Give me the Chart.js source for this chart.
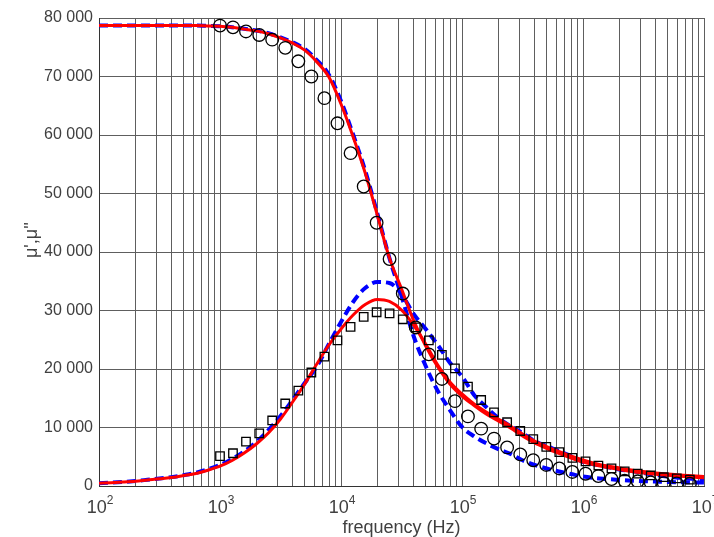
<!DOCTYPE html>
<html>
<head>
<meta charset="utf-8">
<script src="https://cdn.jsdelivr.net/npm/chart.js@4.4.1/dist/chart.umd.min.js"></script>
<style>
  html, body { margin: 0; padding: 0; background: #fff; }
  #wrap { width: 714px; height: 537px; }
</style>
</head>
<body>
<div id="wrap"><canvas id="chart" width="714" height="537"></canvas></div>
<script>
// Measured points (Hz)
const measFreq = [1000, 1280, 1640, 2110, 2700, 3460, 4440, 5690, 7290, 9350,
  12000, 15400, 19700, 25200, 32400, 41500, 53200, 68200, 87400, 112000,
  144000, 184000, 236000, 303000, 388000, 497000, 637000, 817000, 1050000, 1340000,
  1720000, 2210000, 2830000, 3630000, 4650000, 5960000, 7640000];

const muPrimeMeas = [78700, 78400, 77700, 77100, 76300, 74900, 72600, 70000, 66300, 62000,
  56900, 51200, 45000, 38800, 32900, 27100, 22500, 18300, 14500, 11900,
  9800, 8100, 6600, 5400, 4400, 3600, 3000, 2400, 2100, 1700,
  1200, 900, 800, 600, 500, 450, 400];

const muSecondMeas = [5100, 5600, 7600, 9000, 11200, 14100, 16300, 19400, 22100, 24900,
  27200, 28900, 29700, 29500, 28500, 27100, 24900, 22400, 20100, 17000,
  14700, 12600, 10900, 9400, 8000, 6700, 5800, 4800, 4200, 3500,
  3000, 2500, 2100, 1800, 1500, 1300, 1100];

// Model curves (Hz)
const curveFreq = [100, 126, 158, 200, 251, 316, 398, 501, 631, 794,
  1000, 1259, 1585, 1995, 2512, 3162, 3981, 5012, 6310, 7943,
  10000, 12589, 15849, 19953, 25119, 31623, 39811, 50119, 63096, 79433,
  100000, 125893, 158489, 199526, 251189, 316228, 398107, 501187, 630957, 794328,
  1000000, 1258925, 1584893, 1995262, 2511886, 3162278, 3981072, 5011872, 6309573, 7943282,
  10000000];

const redPrime = [78700, 78700, 78700, 78700, 78700, 78700, 78700, 78700, 78700, 78650,
  78600, 78400, 78100, 77800, 77300, 76600, 75700, 74500, 72500, 69900,
  65300, 59700, 53500, 46300, 39000, 33700, 28300, 23930, 20340, 17440,
  15380, 13760, 12310, 11110, 9910, 8550, 7350, 6410, 5560, 4790,
  4100, 3590, 3160, 2820, 2480, 2220, 2000, 1830, 1680, 1540, 1400];

const redSecond = [460, 560, 680, 830, 1030, 1220, 1450, 1780, 2140, 2700,
  3380, 4360, 5640, 7180, 9060, 11450, 14360, 17440, 20850, 24100,
  26840, 29230, 31030, 31880, 31540, 30090, 27520, 24270, 20680, 17780,
  15730, 14020, 12650, 11450, 10260, 8890, 7690, 6750, 5900, 5130,
  4440, 3850, 3420, 3080, 2740, 2480, 2220, 2050, 1880, 1740, 1620];

const bluePrime = [78700, 78700, 78700, 78700, 78700, 78700, 78700, 78700, 78700, 78650,
  78600, 78420, 78150, 77850, 77400, 76700, 75850, 74700, 72800, 70300,
  65800, 60100, 53900, 46600, 38970, 32480, 25640, 20510, 16240, 12990,
  10090, 8500, 7300, 6300, 5500, 4400, 3600, 2990, 2480, 2050,
  1620, 1370, 1200, 1030, 910, 820, 750, 680, 650, 620, 600];

const blueSecond = [480, 580, 700, 860, 1060, 1270, 1520, 1850, 2250, 2850,
  3600, 4600, 5900, 7520, 9570, 11970, 14700, 17610, 20430, 24270,
  28030, 31450, 33850, 34870, 34700, 32820, 29400, 26840, 24100, 21080,
  18720, 15560, 13500, 11620, 10260, 9060, 7690, 6840, 5980, 5130,
  4100, 3680, 3250, 2820, 2560, 2220, 1880, 1590, 1400, 1250, 1150];

// Grid lines of the log axis: 1..9 x each decade
const xGridTicks = [];
for (let e = 2; e < 7; e++) {
  for (let m = 1; m <= 9; m++) xGridTicks.push(m * Math.pow(10, e));
}
xGridTicks.push(1e7);
const xLabelPowers = [2, 3, 4, 5, 6, 7];

const FONT = '"Liberation Sans", Arial, sans-serif';
const TEXT = '#404040';

function pts(xs, ys) {
  return xs.map((x, i) => ({ x: x, y: ys[i] }));
}

const lineBase = {
  pointRadius: 0,
  fill: false,
  cubicInterpolationMode: 'monotone'
};

const textPlugin = {
  id: 'textPlugin',
  beforeDraw(chart) {
    const ctx = chart.ctx;
    ctx.save();
    ctx.fillStyle = '#fff';
    ctx.fillRect(0, 0, chart.width, chart.height);
    ctx.restore();
  },
  afterDraw(chart) {
    const ctx = chart.ctx;
    const xs = chart.scales.x;
    const area = chart.chartArea;
    ctx.save();
    ctx.fillStyle = TEXT;
    ctx.textBaseline = 'alphabetic';
    // x tick labels 10^n
    xLabelPowers.forEach(p => {
      const px = xs.getPixelForValue(Math.pow(10, p));
      ctx.font = '18px ' + FONT;
      const wBase = ctx.measureText('10').width;
      ctx.font = '12px ' + FONT;
      const wExp = ctx.measureText(String(p)).width;
      const start = px + 1 - (wBase + wExp) / 2;
      ctx.font = '18px ' + FONT;
      ctx.textAlign = 'left';
      ctx.fillText('10', start, 513);
      ctx.font = '12px ' + FONT;
      ctx.fillText(String(p), start + wBase, 504);
    });
    // x title
    ctx.font = '18px ' + FONT;
    ctx.textAlign = 'center';
    ctx.fillText('frequency (Hz)', (area.left + area.right) / 2, 533);
    // y title
    ctx.translate(32, 240);
    ctx.rotate(-Math.PI / 2);
    ctx.font = '18px ' + FONT;
    ctx.textAlign = 'center';
    ctx.textBaseline = 'middle';
    ctx.fillText("\u03bc',\u03bc''", 0, 0);
    ctx.restore();
  }
};

new Chart(document.getElementById('chart'), {
  type: 'line',
  data: {
    datasets: [
      {
        label: "\u03bc' measured",
        data: pts(measFreq, muPrimeMeas),
        showLine: false,
        pointStyle: 'circle',
        pointRadius: 6.3,
        pointBorderWidth: 1.3,
        pointBorderColor: '#000',
        pointBackgroundColor: 'rgba(0,0,0,0)',
        order: 0
      },
      {
        label: "\u03bc'' measured",
        data: pts(measFreq, muSecondMeas),
        showLine: false,
        pointStyle: 'rect',
        pointRadius: 6,
        pointBorderWidth: 1.3,
        pointBorderColor: '#000',
        pointBackgroundColor: 'rgba(0,0,0,0)',
        order: 0
      },
      { ...lineBase, label: "\u03bc' fit 2", data: pts(curveFreq, redPrime), borderColor: '#ff0000', borderWidth: 3, order: 1 },
      { ...lineBase, label: "\u03bc'' fit 2", data: pts(curveFreq, redSecond), borderColor: '#ff0000', borderWidth: 3, order: 1 },
      { ...lineBase, label: "\u03bc' fit 1", data: pts(curveFreq, bluePrime), borderColor: '#0000ff', borderWidth: 4, borderDash: [9, 5], order: 2 },
      { ...lineBase, label: "\u03bc'' fit 1", data: pts(curveFreq, blueSecond), borderColor: '#0000ff', borderWidth: 4, borderDash: [9, 5], order: 2 }
    ]
  },
  options: {
    responsive: false,
    devicePixelRatio: 1,
    animation: false,
    layout: { padding: { left: 0, right: 10, top: 18, bottom: 0 } },
    plugins: {
      legend: { display: false },
      tooltip: { enabled: false }
    },
    scales: {
      x: {
        type: 'logarithmic',
        min: 100,
        max: 1e7,
        afterBuildTicks(scale) {
          scale.ticks = xGridTicks.map(v => ({ value: v }));
        },
        afterFit(scale) { scale.height = 51; },
        ticks: { display: false },
        grid: { color: '#5e5e5e', lineWidth: 1, drawTicks: false },
        border: { color: '#333', width: 1 }
      },
      y: {
        min: 0,
        max: 80000,
        afterFit(scale) { scale.width = 99; },
        ticks: {
          stepSize: 10000,
          padding: 6,
          color: TEXT,
          font: { family: FONT, size: 16 },
          callback: v => String(v).replace(/\B(?=(\d{3})+(?!\d))/g, ' ')
        },
        grid: { color: '#5e5e5e', lineWidth: 1, drawTicks: false },
        border: { color: '#333', width: 1 }
      }
    }
  },
  plugins: [textPlugin]
});
</script>
</body>
</html>
